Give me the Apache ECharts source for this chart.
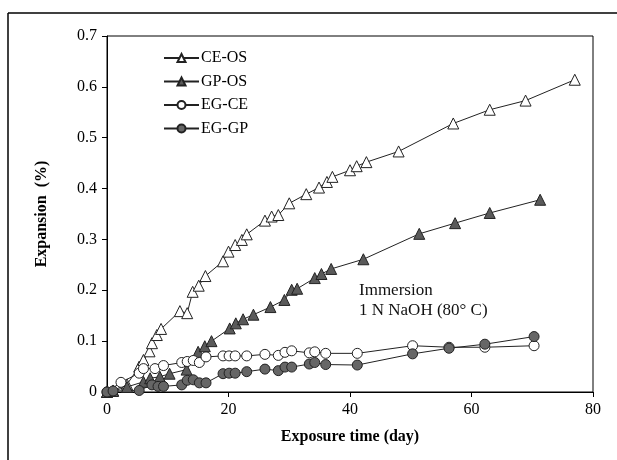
<!DOCTYPE html>
<html>
<head>
<meta charset="utf-8">
<script src="https://cdn.jsdelivr.net/npm/echarts@6/dist/echarts.min.js"></script>
<style>html,body{margin:0;padding:0;background:#fff}#c{width:617px;height:460px}</style>
</head>
<body>
<div id="c"></div>
<script>
const ceosDays = [0, 1, 3.3, 5.3, 6, 7, 7.4, 8.2, 8.9, 12, 13.2, 14.1, 15.1, 16.2, 19.1, 20, 21.1, 22.2, 23, 26, 27.1, 28.2, 30, 32.8, 34.9, 36.2, 37.1, 40, 41.1, 42.7, 48, 57, 63, 68.9, 77];
const ceosVals = [0, 0.003, 0.015, 0.05, 0.063, 0.08, 0.096, 0.112, 0.124, 0.159, 0.155, 0.197, 0.209, 0.228, 0.257, 0.276, 0.289, 0.299, 0.31, 0.337, 0.345, 0.348, 0.371, 0.389, 0.402, 0.413, 0.423, 0.436, 0.444, 0.452, 0.473, 0.528, 0.555, 0.573, 0.614];

const gposDays = [0, 1, 3.3, 6, 7.1, 8.7, 10.3, 13.1, 15, 16.1, 17.2, 20.2, 21.2, 22.4, 24.1, 26.9, 29.2, 30.4, 31.3, 34.2, 35.3, 36.9, 42.2, 51.4, 57.3, 63, 71.3];
const gposVals = [0, 0.002, 0.01, 0.02, 0.027, 0.03, 0.036, 0.044, 0.079, 0.09, 0.1, 0.125, 0.135, 0.143, 0.152, 0.167, 0.181, 0.201, 0.203, 0.224, 0.232, 0.242, 0.261, 0.311, 0.332, 0.352, 0.378];

const egceDays = [0, 2.3, 5.3, 6, 7.9, 9.3, 12.3, 13.2, 14.2, 15.2, 16.3, 19.1, 20.1, 21.1, 23, 26, 28.2, 29.3, 30.4, 33.3, 34.2, 36, 41.2, 50.3, 56.3, 62.2, 70.3];
const egceVals = [0, 0.019, 0.037, 0.046, 0.046, 0.052, 0.058, 0.06, 0.062, 0.058, 0.069, 0.071, 0.071, 0.071, 0.071, 0.074, 0.072, 0.078, 0.081, 0.077, 0.079, 0.076, 0.076, 0.091, 0.088, 0.088, 0.091];

const eggpDays = [0, 1, 5.3, 7.4, 8.4, 9.3, 12.3, 13.2, 14.2, 15.2, 16.3, 19.1, 20.1, 21.1, 23, 26, 28.2, 29.3, 30.4, 33.3, 34.2, 36, 41.2, 50.3, 56.3, 62.2, 70.3];
const eggpVals = [0, 0.002, 0.003, 0.014, 0.011, 0.011, 0.014, 0.023, 0.024, 0.018, 0.018, 0.036, 0.037, 0.037, 0.04, 0.045, 0.042, 0.049, 0.049, 0.055, 0.058, 0.054, 0.053, 0.075, 0.086, 0.094, 0.109];

const seriesNames = ['CE-OS', 'GP-OS', 'EG-CE', 'EG-GP'];
const xTicks = [0, 20, 40, 60, 80];
const yTicks = [0, 0.1, 0.2, 0.3, 0.4, 0.5, 0.6, 0.7];
const xTitle = 'Exposure time (day)';
const yTitle = 'Expansion  (%)';
const noteLines = ['Immersion', '1 N NaOH (80° C)'];

const zip = (xs, ys) => xs.map((x, i) => [x, ys[i]]);
const font = 'Liberation Serif';

const styles = [
  { symbol: 'triangle', fill: '#ffffff' },
  { symbol: 'triangle', fill: '#5a5a5a' },
  { symbol: 'circle', fill: '#ffffff' },
  { symbol: 'circle', fill: '#666666' }
];
const dataSets = [zip(ceosDays, ceosVals), zip(gposDays, gposVals), zip(egceDays, egceVals), zip(eggpDays, eggpVals)];

const chart = echarts.init(document.getElementById('c'), null, { renderer: 'canvas' });
chart.setOption({
  animation: false,
  backgroundColor: '#fff',
  grid: { left: 107, right: 24, top: 36, bottom: 68, show: true, borderColor: '#000', borderWidth: 1, backgroundColor: 'transparent' },
  legend: {
    orient: 'vertical', left: 163, top: 50, padding: 0, itemWidth: 35, itemHeight: 10, itemGap: 7.5,
    data: seriesNames,
    textStyle: { fontFamily: font, fontSize: 16, color: '#000', padding: [0, 0, 0, -3] }
  },
  xAxis: {
    type: 'value', min: xTicks[0], max: xTicks[xTicks.length - 1], interval: 20,
    axisLine: { lineStyle: { color: '#000', width: 1 } },
    axisTick: { inside: false, length: 5, lineStyle: { color: '#000' } },
    splitLine: { show: false },
    axisLabel: { fontFamily: font, fontSize: 16, color: '#000', margin: 10 },
    name: xTitle, nameLocation: 'middle', nameGap: 37,
    nameTextStyle: { fontFamily: font, fontSize: 16, fontWeight: 'bold', color: '#000' }
  },
  yAxis: {
    type: 'value', min: yTicks[0], max: yTicks[yTicks.length - 1], interval: 0.1,
    axisLine: { show: true, lineStyle: { color: '#000', width: 1 } },
    axisTick: { show: true, inside: false, length: 5, lineStyle: { color: '#000' } },
    splitLine: { show: false },
    axisLabel: { fontFamily: font, fontSize: 16, color: '#000', margin: 10, formatter: v => v === 0 ? '0' : v.toFixed(1) },
    name: yTitle, nameLocation: 'middle', nameGap: 57, nameRotate: 90,
    nameTextStyle: { fontFamily: font, fontSize: 16, fontWeight: 'bold', color: '#000' }
  },
  series: seriesNames.map((n, i) => ({
    name: n, type: 'line', data: dataSets[i],
    symbol: styles[i].symbol, symbolSize: styles[i].symbol === 'triangle' ? 11 : 10,
    showAllSymbol: true,
    lineStyle: { color: '#222', width: 1 },
    itemStyle: { color: styles[i].fill, borderColor: '#222', borderWidth: 1 },
    emphasis: { disabled: true }
  })),
  graphic: [
    { type: 'line', shape: { x1: 8, y1: 13, x2: 617, y2: 13 }, style: { stroke: '#000', lineWidth: 1.5 } },
    { type: 'line', shape: { x1: 8, y1: 13, x2: 8, y2: 460 }, style: { stroke: '#000', lineWidth: 1.5 } },
    { type: 'text', left: 359, top: 281, style: { text: noteLines.join('\n'), fontFamily: font, fontSize: 17, lineHeight: 20, fill: '#111' } }
  ]
});
</script>
</body>
</html>
